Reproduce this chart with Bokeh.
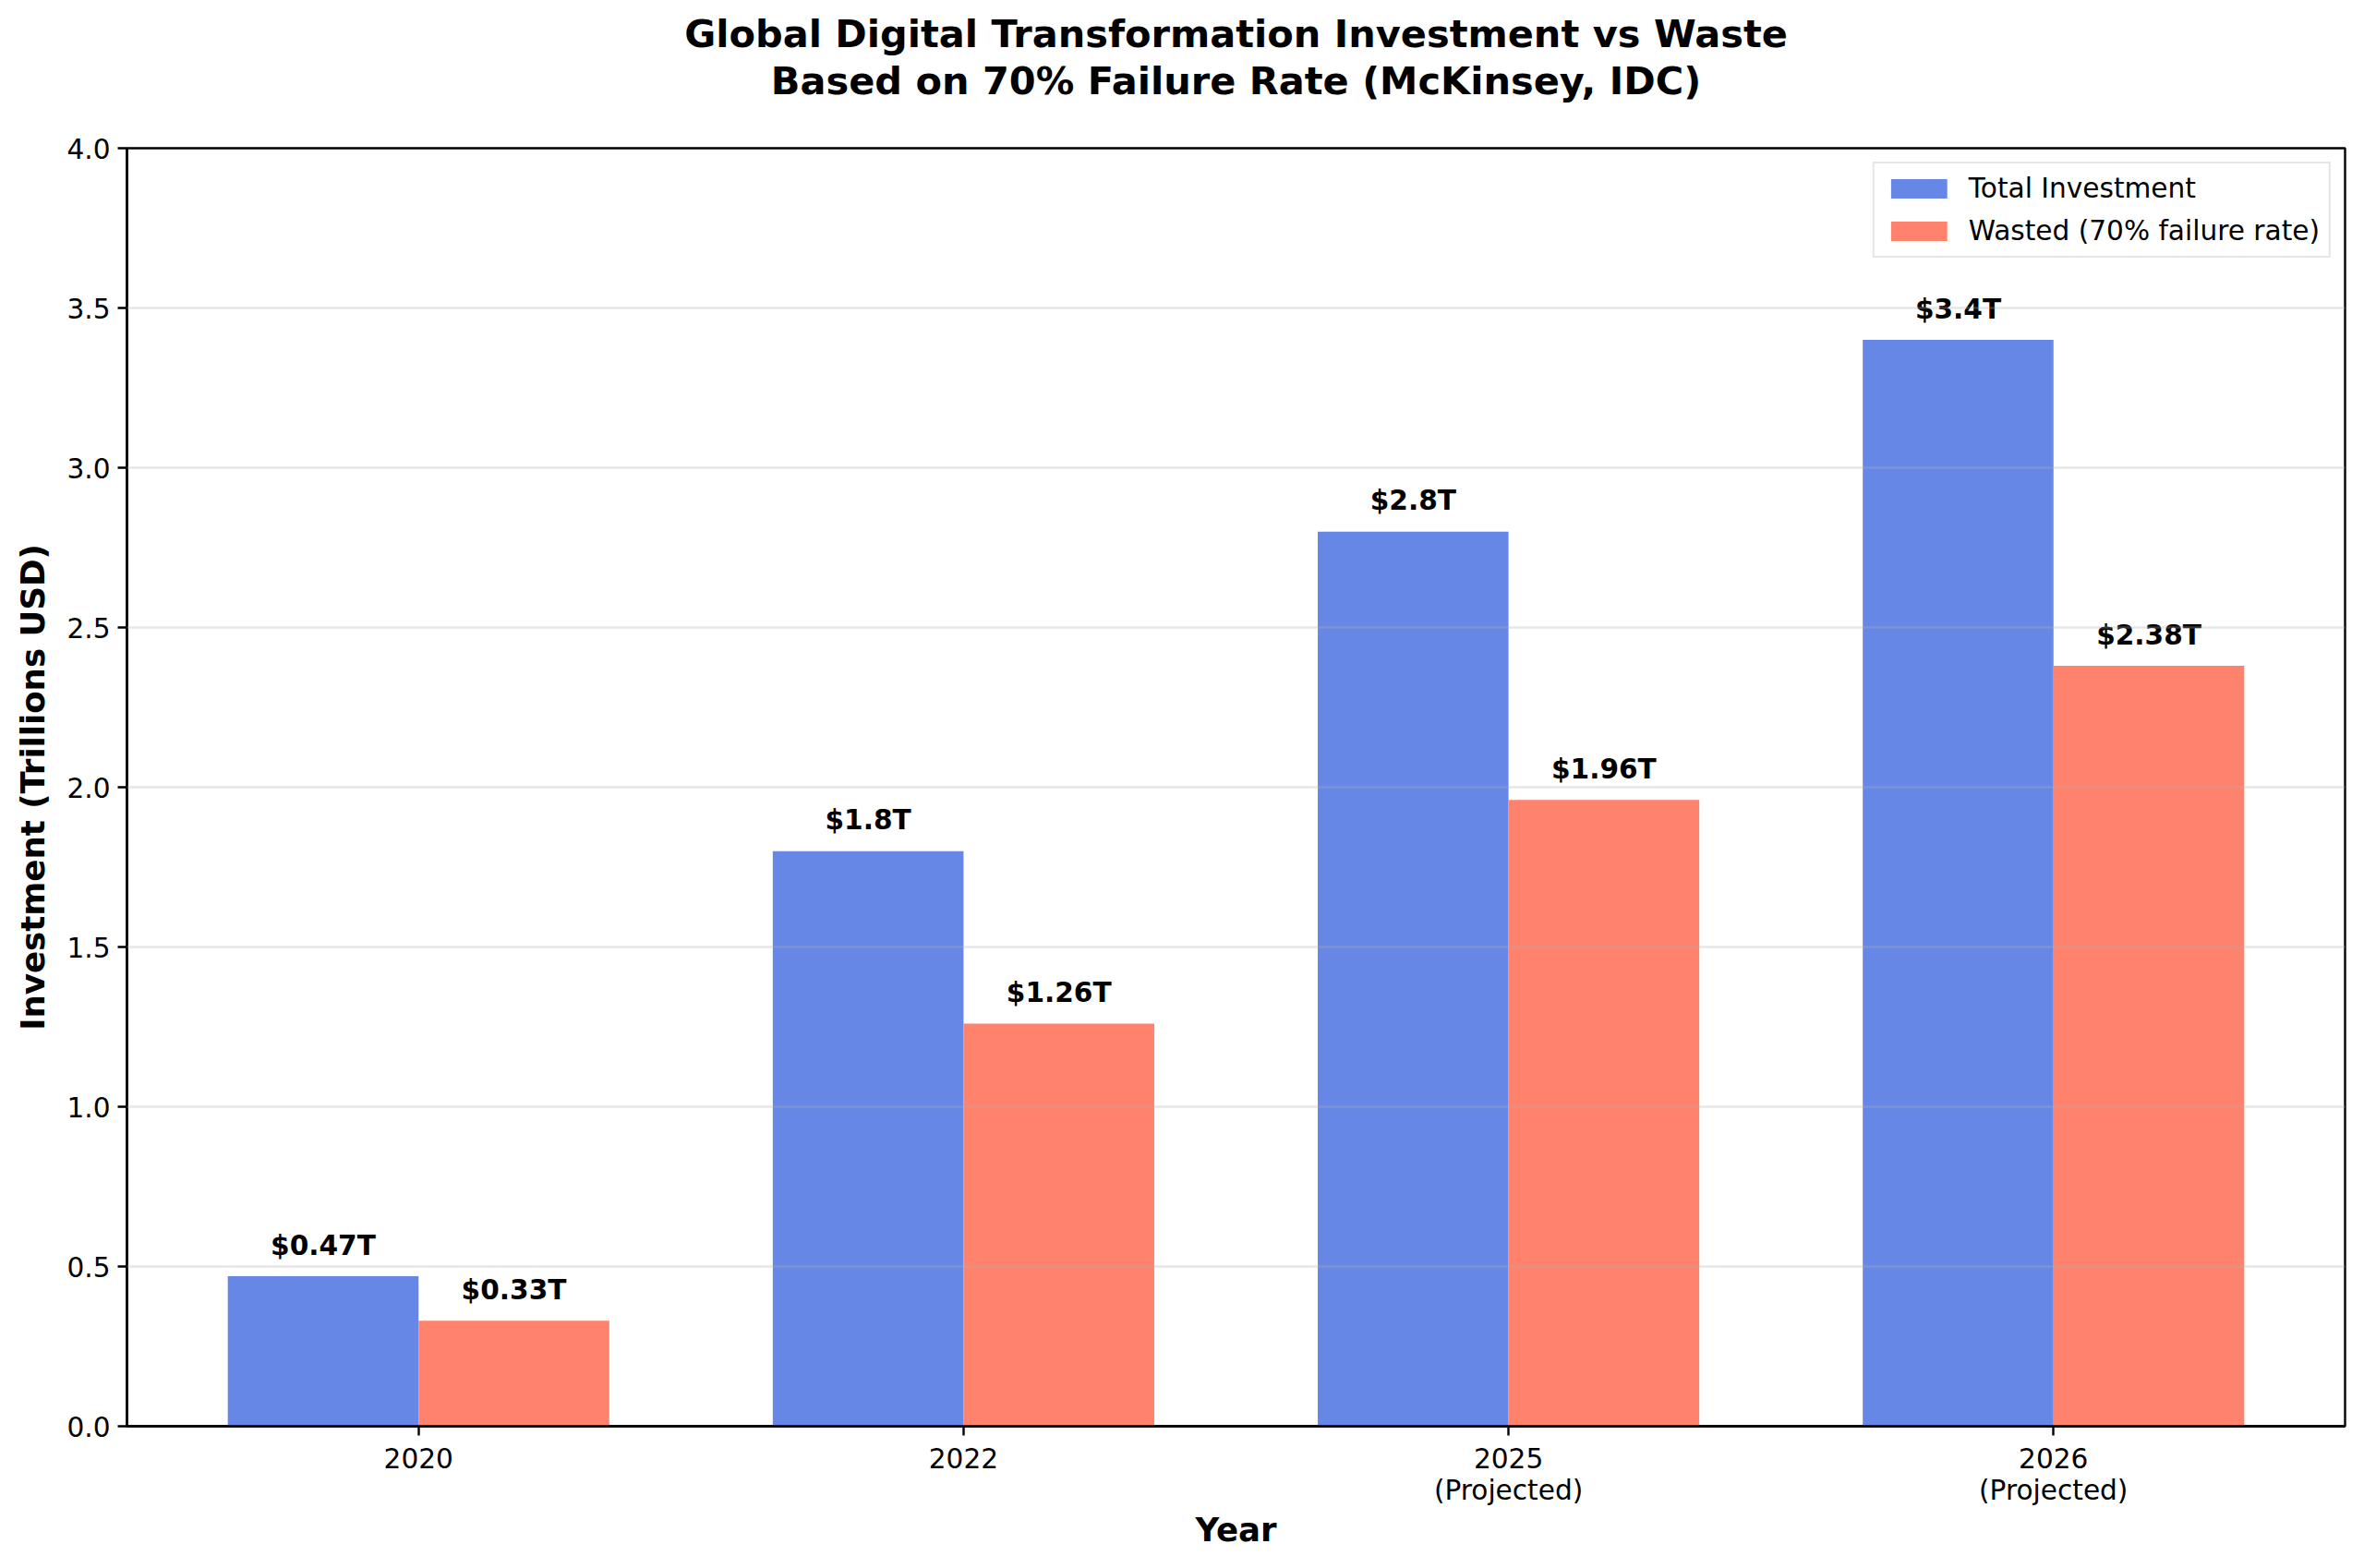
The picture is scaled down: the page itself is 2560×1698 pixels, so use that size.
from bokeh.plotting import figure
from bokeh.models import (ColumnDataSource, FixedTicker, PrintfTickFormatter, Title,
                          Legend, LegendItem, Range1d)
from bokeh.core.properties import value
from bokeh.embed import file_html
from bokeh.resources import INLINE

# ---- data ----
years = ["2020", "2022", "2025\n(Projected)", "2026\n(Projected)"]
total_investment = [0.47, 1.8, 2.8, 3.4]
wasted = [0.33, 1.26, 1.96, 2.38]
y_ticks = [0.0, 0.5, 1.0, 1.5, 2.0, 2.5, 3.0, 3.5, 4.0]

title_line1 = "Global Digital Transformation Investment vs Waste"
title_line2 = "Based on 70% Failure Rate (McKinsey, IDC)"
series_names = ["Total Investment", "Wasted (70% failure rate)"]

# ---- styling ----
FONT = "DejaVu Sans"
BAR_W = 0.35
BLUE = "#6787E7"
RED = "#FF826C"
LABEL_GAP = 0.096  # label baseline gap above bar, in data units
idx = list(range(len(years)))

def fmt(v):
    return f"${v}T"

src_t = ColumnDataSource(dict(
    x=[i - BAR_W / 2 for i in idx], top=total_investment,
    ly=[v + LABEL_GAP for v in total_investment], lt=[fmt(v) for v in total_investment]))
src_w = ColumnDataSource(dict(
    x=[i + BAR_W / 2 for i in idx], top=wasted,
    ly=[v + LABEL_GAP for v in wasted], lt=[fmt(v) for v in wasted]))

p = figure(width=2544, height=1682, output_backend="svg", toolbar_location=None,
           title=None,
           x_range=Range1d(-0.535, 3.535), y_range=Range1d(0, 4),
           min_border_left=137, min_border_right=5,
           min_border_top=160, min_border_bottom=138)
p.background_fill_color = "white"
p.border_fill_color = "white"

# title panels stack outward from the frame: spacer, line 2, line 1
p.add_layout(Title(text=" ", text_font_size="1px", standoff=46), "above")
p.add_layout(Title(text=title_line2, align="center", text_font=FONT,
                   text_font_style="bold", text_font_size="41.5px",
                   text_color="black", standoff=0), "above")
p.add_layout(Title(text=title_line1, align="center", text_font=FONT,
                   text_font_style="bold", text_font_size="41.5px",
                   text_color="black", standoff=0), "above")

r_t = p.vbar(x="x", top="top", width=BAR_W, bottom=0, source=src_t,
             fill_color=BLUE, line_color=None)
r_w = p.vbar(x="x", top="top", width=BAR_W, bottom=0, source=src_w,
             fill_color=RED, line_color=None)

for src in (src_t, src_w):
    p.text(x="x", y="ly", text="lt", source=src, text_align="center",
           text_baseline="alphabetic", text_font=value(FONT),
           text_font_style="bold", text_font_size="29.6px", text_color="black")

# axes
p.xaxis.ticker = FixedTicker(ticks=idx)
p.xaxis.major_label_overrides = {i: years[i] for i in idx}
p.yaxis.ticker = FixedTicker(ticks=y_ticks)
p.yaxis.formatter = PrintfTickFormatter(format="%.1f")
p.xaxis.axis_label = "Year"
p.yaxis.axis_label = "Investment (Trillions USD)"
for ax in (p.xaxis, p.yaxis):
    ax.axis_line_color = "black"
    ax.axis_line_width = 2.4
    ax.major_tick_line_color = "black"
    ax.major_tick_line_width = 2.4
    ax.major_tick_out = 10
    ax.major_tick_in = 0
    ax.minor_tick_line_color = None
    ax.major_label_text_font = FONT
    ax.major_label_text_font_size = "29.6px"
    ax.major_label_text_line_height = 1.0
    ax.major_label_text_color = "black"
    ax.major_label_standoff = 8
    ax.axis_label_text_font = FONT
    ax.axis_label_text_font_size = "35.6px"
    ax.axis_label_text_font_style = "bold"
    ax.axis_label_text_color = "black"
p.xaxis.axis_label_standoff = 2
p.yaxis.axis_label_standoff = 13

p.outline_line_color = "black"
p.outline_line_width = 2.4
p.outline_line_alpha = 1.0

p.xgrid.visible = False
p.ygrid.ticker = FixedTicker(ticks=y_ticks)
p.ygrid.grid_line_color = "#b0b0b0"
p.ygrid.grid_line_alpha = 0.3
p.ygrid.grid_line_width = 2.4
p.ygrid.level = "annotation"

legend = Legend(items=[LegendItem(label=series_names[0], renderers=[r_t]),
                       LegendItem(label=series_names[1], renderers=[r_w])],
                location="top_right", margin=15, padding=10, spacing=12,
                glyph_width=76, glyph_height=26, label_standoff=16,
                label_text_font=FONT, label_text_font_size="29.6px",
                label_text_color="black",
                border_line_color="#cccccc", border_line_width=2,
                background_fill_color="white", background_fill_alpha=0.8)
p.add_layout(legend)

open("out.html", "w").write(file_html(p, INLINE))
